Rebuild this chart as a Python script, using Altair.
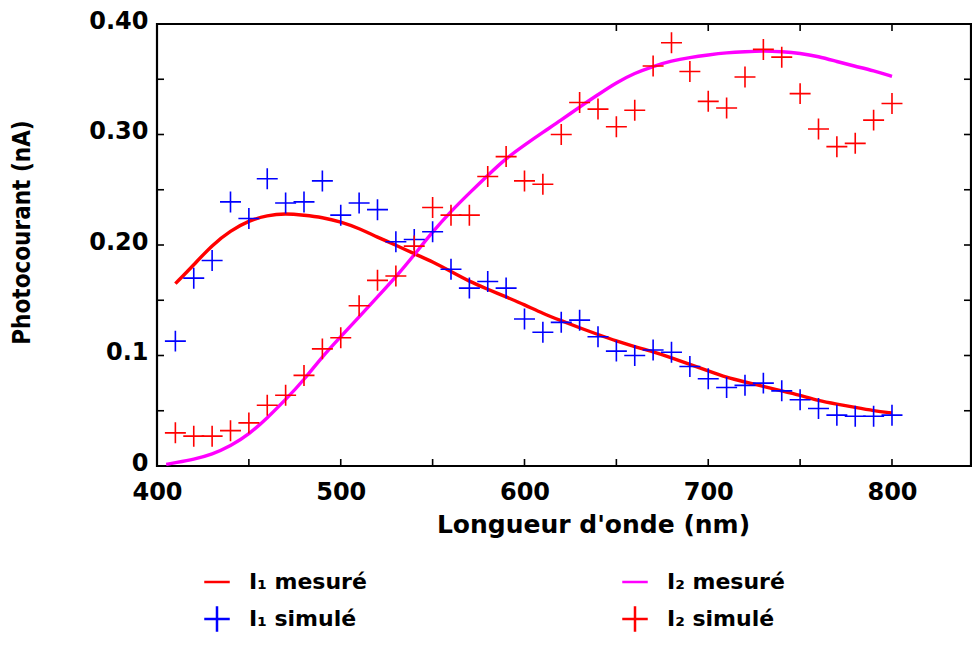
import altair as alt
import pandas as pd

# ---- data ----
wl_sim = list(range(410, 801, 10))
i1_sim = [0.113, 0.170, 0.186, 0.239, 0.224, 0.260, 0.238, 0.239, 0.258, 0.227,
          0.238, 0.232, 0.203, 0.205, 0.212, 0.178, 0.161, 0.167, 0.161, 0.133,
          0.121, 0.130, 0.132, 0.117, 0.104, 0.100, 0.105, 0.103, 0.090, 0.079,
          0.071, 0.073, 0.075, 0.068, 0.060, 0.052, 0.046, 0.045, 0.045, 0.046]
i2_sim = [0.030, 0.027, 0.027, 0.032, 0.039, 0.055, 0.064, 0.082, 0.106, 0.116,
          0.145, 0.168, 0.172, 0.199, 0.234, 0.227, 0.227, 0.262, 0.280, 0.258,
          0.255, 0.300, 0.329, 0.323, 0.307, 0.322, 0.362, 0.383, 0.357, 0.330,
          0.324, 0.352, 0.377, 0.370, 0.337, 0.305, 0.289, 0.292, 0.313, 0.328]

wl_i1_mes = list(range(410, 801, 10))
i1_mes = [0.165, 0.182, 0.200, 0.213, 0.222, 0.227, 0.2285, 0.227, 0.225, 0.221,
          0.215, 0.207, 0.200, 0.192, 0.185, 0.176, 0.167, 0.160, 0.153, 0.146,
          0.138, 0.1315, 0.125, 0.119, 0.113, 0.108, 0.1035, 0.098, 0.092, 0.086,
          0.080, 0.076, 0.072, 0.068, 0.064, 0.059, 0.056, 0.053, 0.050, 0.048]

wl_i2_mes = [405] + list(range(410, 801, 10))
i2_mes = [0.0015, 0.003, 0.006, 0.0105, 0.018, 0.0285, 0.0435, 0.060, 0.078, 0.099,
          0.117, 0.135, 0.153, 0.171, 0.191, 0.212, 0.2305, 0.247, 0.263, 0.2785,
          0.2905, 0.302, 0.313, 0.325, 0.336, 0.347, 0.3556, 0.3617, 0.3667, 0.3697,
          0.372, 0.374, 0.375, 0.3757, 0.375, 0.3736, 0.3706, 0.366, 0.3617, 0.3577,
          0.3526]

x_label_values = [400, 500, 600, 700, 800]
x_tick_values = [450, 500, 550, 600, 650, 700, 750, 800]
x_top_tick_values = [650, 700, 750, 800]
y_label_values = [0, 0.1, 0.2, 0.3, 0.4]
y_tick_values = [0.05, 0.10, 0.15, 0.20, 0.25, 0.30, 0.35]

series_names = ["I\u2081 mesuré", "I\u2082 mesuré", "I\u2081 simulé", "I\u2082 simulé"]
series_colors = ["#ff0000", "#ff00ff", "#0000ff", "#ff0000"]
series_shapes = ["M-1,0H1", "M-1,0H1", "M-1,0H1M0,-1V1", "M-1,0H1M0,-1V1"]

# ---- tables ----
lines_df = pd.concat([
    pd.DataFrame({"wl": wl_i1_mes, "val": i1_mes, "serie": series_names[0]}),
    pd.DataFrame({"wl": wl_i2_mes, "val": i2_mes, "serie": series_names[1]}),
])
points_df = pd.concat([
    pd.DataFrame({"wl": wl_sim, "val": i1_sim, "serie": series_names[2]}),
    pd.DataFrame({"wl": wl_sim, "val": i2_sim, "serie": series_names[3]}),
])
xt_df = pd.DataFrame({"wl": x_tick_values})
xtt_df = pd.DataFrame({"wl": x_top_tick_values})
yt_df = pd.DataFrame({"val": y_tick_values})

W, H = 814, 442
FONT = "DejaVu Sans"

xscale = alt.Scale(domain=[400, 843], nice=False, zero=False)
yscale = alt.Scale(domain=[0, 0.40], nice=False)

xaxis = alt.Axis(values=x_label_values, ticks=False, domain=False, grid=False,
                 labelFont=FONT, labelFontSize=24, labelFontWeight="bold",
                 labelColor="black", labelPadding=14, labelFlush=False,
                 title="Longueur d'onde (nm)", titleFont=FONT, titleFontSize=25,
                 titleFontWeight="bold", titleColor="black", titlePadding=8,
                 titleX=436, titleAlign="center")
yaxis = alt.Axis(values=y_label_values, ticks=False, domain=False, grid=False,
                 labelFont=FONT, labelFontSize=24, labelFontWeight="bold",
                 labelColor="black", labelPadding=9, labelFlush=False, labelOffset=-3,
                 labelExpr="datum.value == 0 ? '0' : (abs(datum.value - 0.1) < 0.001 ? '0.1' : format(datum.value, '.2f'))",
                 title="Photocourant (nA)", titleFont="DejaVu Sans Condensed",
                 titleFontSize=24, titleFontWeight="bold", titleColor="black",
                 titleX=-135, titleY=208, titleAlign="center", titleBaseline="middle",
                 titleAngle=270)

X = alt.X("wl:Q", scale=xscale, axis=xaxis)
Y = alt.Y("val:Q", scale=yscale, axis=yaxis)

color_scale = alt.Scale(domain=series_names, range=series_colors)
shape_scale = alt.Scale(domain=series_names, range=series_shapes)

legend = alt.Legend(title=None, orient="none", legendX=46, legendY=544,
                    direction="horizontal", columns=2, columnPadding=250, rowPadding=8,
                    labelFont=FONT, labelFontSize=22, labelFontWeight="bold",
                    labelColor="black", labelOffset=18, symbolSize=650,
                    symbolStrokeWidth=2.5, symbolFillColor="transparent",
                    labelLimit=0)

lines = alt.Chart(lines_df).mark_line(strokeWidth=3.4, interpolate="basis").encode(
    x=X, y=Y,
    color=alt.Color("serie:N", scale=color_scale, legend=legend),
    shape=alt.Shape("serie:N", scale=shape_scale, legend=legend),
)
points = alt.Chart(points_df).mark_point(filled=False, size=440, strokeWidth=1.6, opacity=1).encode(
    x=X, y=Y,
    color=alt.Color("serie:N", scale=color_scale, legend=legend),
    shape=alt.Shape("serie:N", scale=shape_scale, legend=legend),
)

tick_style = dict(color="black", strokeWidth=1.6)
bottom_ticks = alt.Chart(xt_df).mark_rule(**tick_style).encode(
    x=X, y=alt.value(H), y2=alt.value(H - 7))
top_ticks = alt.Chart(xtt_df).mark_rule(**tick_style).encode(
    x=X, y=alt.value(0), y2=alt.value(7))
left_ticks = alt.Chart(yt_df).mark_rule(**tick_style).encode(
    y=Y, x=alt.value(0), x2=alt.value(7))
right_ticks = alt.Chart(yt_df).mark_rule(**tick_style).encode(
    y=Y, x=alt.value(W - 7), x2=alt.value(W))

chart = alt.layer(lines, points, bottom_ticks, top_ticks, left_ticks, right_ticks).properties(
    width=W, height=H,
    autosize=alt.AutoSizeParams(type="none"),
    padding={"left": 149, "top": 16, "right": 1, "bottom": 172},
    background="white",
).configure_view(stroke="black", strokeWidth=2.2)

chart.save("out.html", embed_options={"renderer": "svg", "actions": False})
